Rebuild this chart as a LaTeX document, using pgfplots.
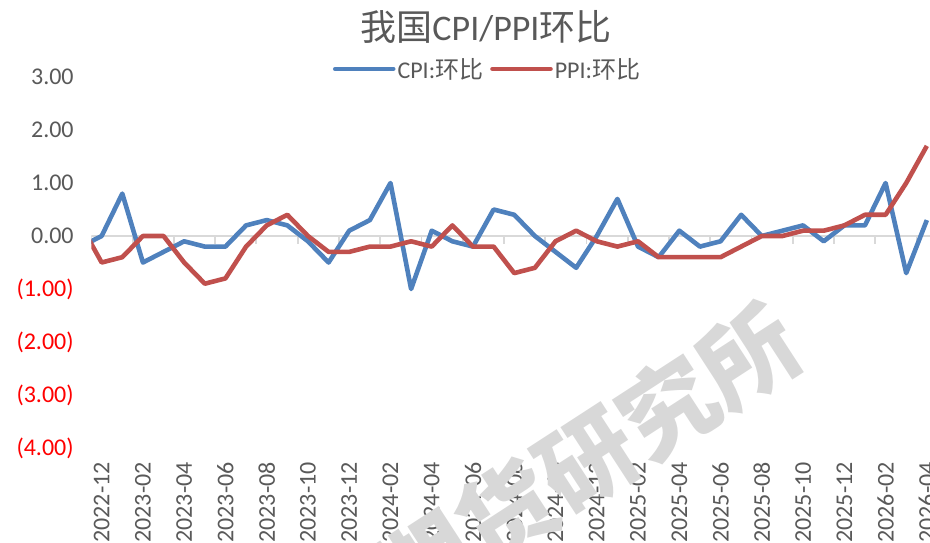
\documentclass[border=0pt]{standalone}
\usepackage{pgfplots}
\pgfplotsset{compat=1.18}
\usepackage{fontspec}
\setmainfont{Carlito}
\newfontfamily\cjk{Noto Sans CJK SC}
\definecolor{cpiblue}{HTML}{4F81BD}
\definecolor{ppired}{HTML}{C0504D}
\definecolor{txtgray}{HTML}{595959}
\definecolor{gridgray}{HTML}{D9D9D9}
\definecolor{wmgray}{HTML}{D8D8D8}
\definecolor{negred}{HTML}{FF0000}

\pgfplotstableread{
x y
-1 -0.2
0 0.0
1 0.8
2 -0.5
3 -0.3
4 -0.1
5 -0.2
6 -0.2
7 0.2
8 0.3
9 0.2
10 -0.1
11 -0.5
12 0.1
13 0.3
14 1.0
15 -1.0
16 0.1
17 -0.1
18 -0.2
19 0.5
20 0.4
21 0.0
22 -0.3
23 -0.6
24 0.0
25 0.7
26 -0.2
27 -0.4
28 0.1
29 -0.2
30 -0.1
31 0.4
32 0.0
33 0.1
34 0.2
35 -0.1
36 0.2
37 0.2
38 1.0
39 -0.7
40 0.3
}\cpidata

\pgfplotstableread{
x y
-1 0.2
0 -0.5
1 -0.4
2 0.0
3 0.0
4 -0.5
5 -0.9
6 -0.8
7 -0.2
8 0.2
9 0.4
10 0.0
11 -0.3
12 -0.3
13 -0.2
14 -0.2
15 -0.1
16 -0.2
17 0.2
18 -0.2
19 -0.2
20 -0.7
21 -0.6
22 -0.1
23 0.1
24 -0.1
25 -0.2
26 -0.1
27 -0.4
28 -0.4
29 -0.4
30 -0.4
31 -0.2
32 0.0
33 0.0
34 0.1
35 0.1
36 0.2
37 0.4
38 0.4
39 1.0
40 1.7
}\ppidata

\begin{document}
\begin{tikzpicture}
\path[use as bounding box] (0,0) rectangle (930pt,543pt);
\begin{axis}[
  at={(91.35pt,95pt)}, anchor=south west,
  scale only axis, width=838.6pt, height=371pt,
  xmin=-0.5, xmax=40.15, ymin=-4, ymax=3,
  axis line style={draw=none},
  major tick length=0pt,
  xtick={0,2,...,40},
  xticklabels={2022-12,2023-02,2023-04,2023-06,2023-08,2023-10,2023-12,2024-02,2024-04,2024-06,2024-08,2024-10,2024-12,2025-02,2025-04,2025-06,2025-08,2025-10,2025-12,2026-02,2026-04},
  xticklabel style={rotate=90, anchor=east, inner sep=0pt, font=\fontsize{24}{24}\selectfont, text=txtgray},
  xticklabel shift=14pt,
  ytick={-4,-3,-2,-1,0,1,2,3},
  yticklabels={{\color{negred}(4.00)},{\color{negred}(3.00)},{\color{negred}(2.00)},{\color{negred}(1.00)},0.00,1.00,2.00,3.00},
  yticklabel style={anchor=east, inner sep=0pt, font=\fontsize{24}{24}\selectfont, text=txtgray},
  yticklabel shift=17.5pt,
  legend style={at={(0.4724,1.0216)}, anchor=center, legend columns=2, draw=none, fill=none,
    font=\fontsize{24}{24}\selectfont, text=txtgray, inner sep=0pt,
    /tikz/every even column/.append style={column sep=5pt}},
  legend image code/.code={\draw[#1, line cap=round] (0pt,0pt) -- (58pt,0pt);},
]
\draw[gridgray, line width=1.8pt] (axis cs:-0.5,0) -- (axis cs:40.15,0);
\pgfplotsinvokeforeach{-0.5,1.5,...,39.5}{
  \draw[gridgray, line width=1.8pt] (axis cs:#1,0) -- ([yshift=-8pt]axis cs:#1,0);
}
\addplot[cpiblue, line width=4.6pt, line join=round] table[x=x,y=y]{\cpidata};
\addlegendentry{CPI:{\cjk 环比}}
\addplot[ppired, line width=4.6pt, line join=round] table[x=x,y=y]{\ppidata};
\addlegendentry{PPI:{\cjk 环比}}
\end{axis}
\node[text=txtgray, font=\fontsize{36}{36}\selectfont] at (486pt,516pt) {{\cjk 我国}CPI/PPI{\cjk 环比}};
\node[text=wmgray, rotate=33, font=\cjk\bfseries\fontsize{96}{96}\selectfont] at (587pt,83pt) {期货研究所};
\end{tikzpicture}
\end{document}
